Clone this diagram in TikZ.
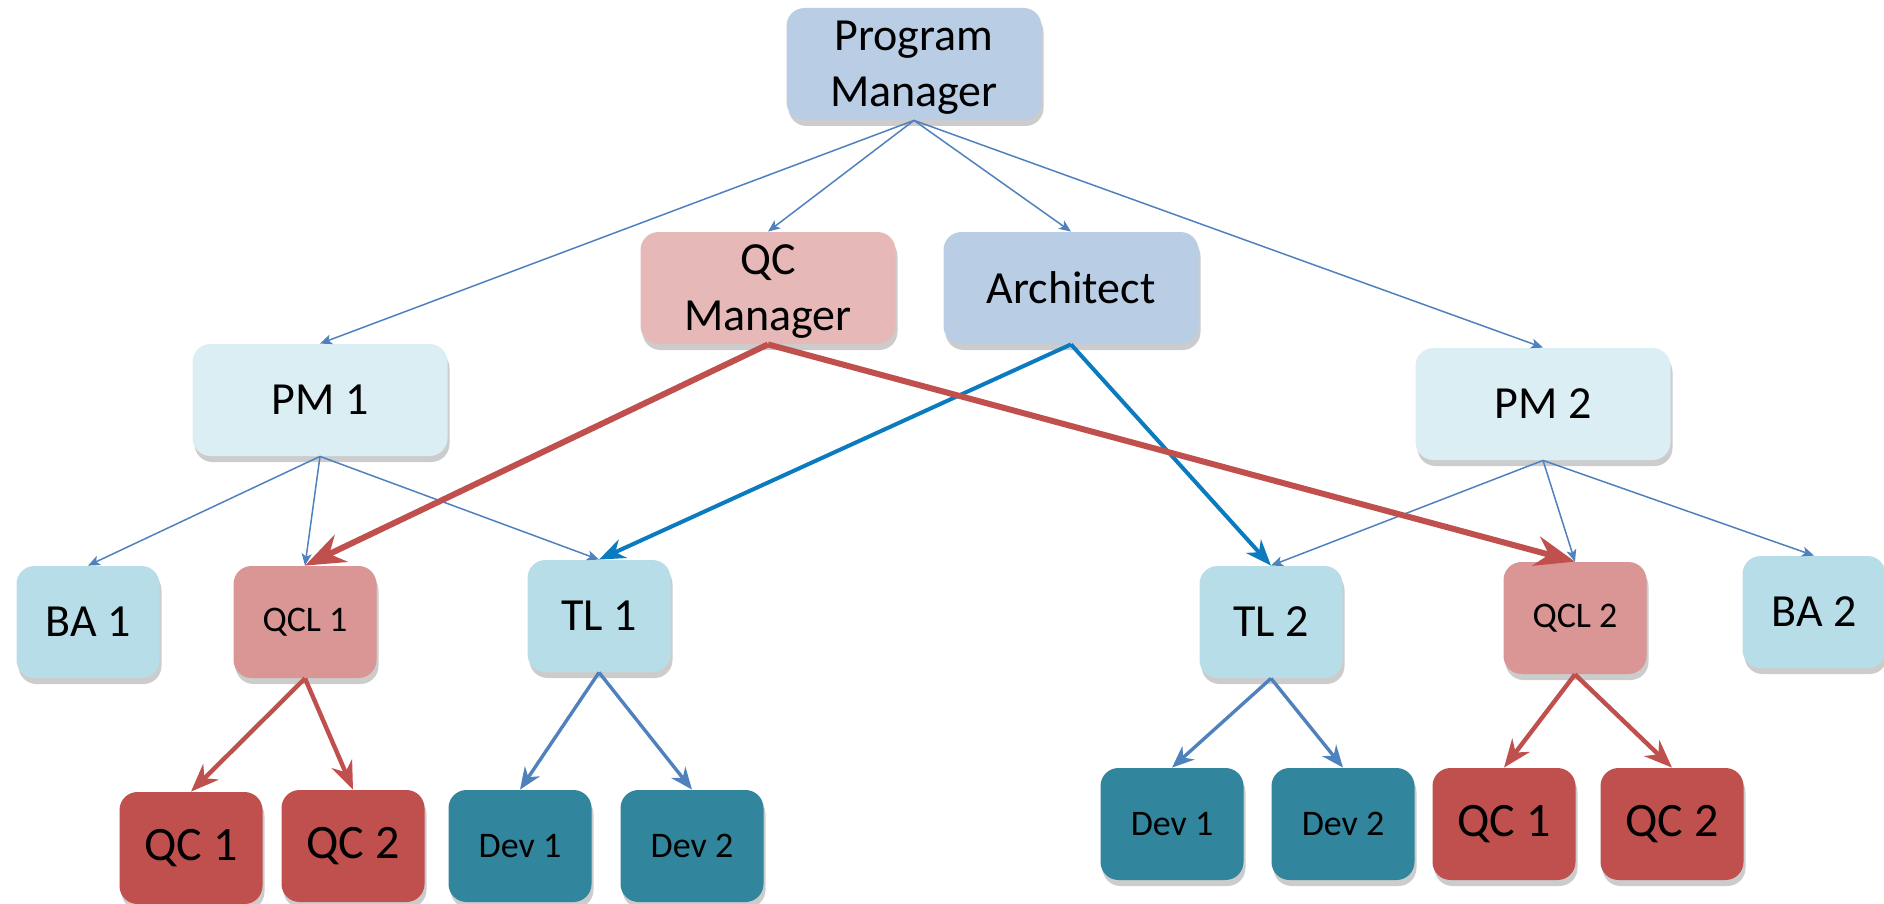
\documentclass[tikz,border=0pt]{standalone}
\usepackage{fontspec}
\setmainfont{Carlito}
\usetikzlibrary{arrows.meta,shadows}
\definecolor{cPM}{HTML}{B9CDE5}
\definecolor{cQCM}{HTML}{E6B9B8}
\definecolor{cPMx}{HTML}{DBEEF4}
\definecolor{cBA}{HTML}{B7DEE8}
\definecolor{cQCL}{HTML}{D99694}
\definecolor{cQC}{HTML}{C0504D}
\definecolor{cDev}{HTML}{31859C}
\definecolor{cLine}{HTML}{4F81BD}
\definecolor{cArch}{HTML}{0B7BC0}
\tikzset{
  box/.style={rounded corners=9pt, inner sep=0pt, align=center, text=black,
    font=\fontsize{23}{28}\selectfont,
    drop shadow={shadow xshift=1pt, shadow yshift=-3pt, opacity=0.2, fill=black}},
  bigbox/.style={box, minimum width=127.5pt, minimum height=56pt},
  smallbox/.style={box, minimum width=71.5pt, minimum height=56pt},
  twoline/.style={text depth=0pt},
  smallfont/.style={font=\fontsize{18}{22}\selectfont},
  qcfont/.style={font=\fontsize{24}{29}\selectfont},
  thinarrow/.style={draw=cLine, line width=0.75pt, -{Stealth[length=6pt,width=5pt,inset=1.5pt]}},
  qcmarrow/.style={draw=cQC, line width=3pt, -{Stealth[length=20pt,width=15pt,inset=6.5pt]}},
  archarrow/.style={draw=cArch, line width=2pt, -{Stealth[length=13pt,width=10pt,inset=4pt]}},
  qcarrow/.style={draw=cQC, line width=2.2pt, -{Stealth[length=14pt,width=11pt,inset=4.5pt]}},
  devarrow/.style={draw=cLine, line width=1.7pt, -{Stealth[length=11pt,width=9pt,inset=3.5pt]}},
}
\begin{document}
\begin{tikzpicture}[x=0.5pt,y=-0.5pt]
\useasboundingbox (0,0) rectangle (1884,904);
% top level
\node[bigbox, twoline, fill=cPM] (pm) at (914,64) {Program\\Manager};
\node[bigbox, twoline, fill=cQCM] (qcm) at (768,288) {QC\\Manager};
\node[bigbox, fill=cPM] (arch) at (1071,288) {Architect};
\node[bigbox, fill=cPMx] (pm1) at (320,400) {PM 1};
\node[bigbox, fill=cPMx] (pm2) at (1543,404) {PM 2};
% middle level
\node[smallbox, fill=cBA] (ba1) at (88,622) {BA 1};
\node[smallbox, fill=cQCL, smallfont] (qcl1) at (305,622) {QCL 1};
\node[smallbox, fill=cBA] (tl1) at (599,616) {TL 1};
\node[smallbox, fill=cBA] (tl2) at (1271,622) {TL 2};
\node[smallbox, fill=cQCL, smallfont] (qcl2) at (1575,618) {QCL 2};
\node[smallbox, fill=cBA] (ba2) at (1814,612) {BA 2};
% bottom level
\node[smallbox, fill=cQC, qcfont] (qc1l) at (191,848) {QC 1};
\node[smallbox, fill=cQC, qcfont] (qc2l) at (353,846) {QC 2};
\node[smallbox, fill=cDev, smallfont] (dev1l) at (520,846) {Dev 1};
\node[smallbox, fill=cDev, smallfont] (dev2l) at (692,846) {Dev 2};
\node[smallbox, fill=cDev, smallfont] (dev1r) at (1172,824) {Dev 1};
\node[smallbox, fill=cDev, smallfont] (dev2r) at (1343,824) {Dev 2};
\node[smallbox, fill=cQC, qcfont] (qc1r) at (1504,824) {QC 1};
\node[smallbox, fill=cQC, qcfont] (qc2r) at (1672,824) {QC 2};
% thin connectors
\draw[thinarrow] (pm.south) -- (pm1.north);
\draw[thinarrow] (pm.south) -- (qcm.north);
\draw[thinarrow] (pm.south) -- (arch.north);
\draw[thinarrow] (pm.south) -- (pm2.north);
\draw[thinarrow] (pm1.south) -- (ba1.north);
\draw[thinarrow] (pm1.south) -- (qcl1.north);
\draw[thinarrow] (pm1.south) -- (tl1.north);
\draw[thinarrow] (pm2.south) -- (tl2.north);
\draw[thinarrow] (pm2.south) -- (qcl2.north);
\draw[thinarrow] (pm2.south) -- (ba2.north);
% architect
\draw[archarrow] (arch.south) -- (tl1.north);
\draw[archarrow] (arch.south) -- (tl2.north);
% QC manager
\draw[qcmarrow] (qcm.south) -- (qcl1.north);
\draw[qcmarrow] (qcm.south) -- (qcl2.north);
% leads to staff
\draw[qcarrow] (qcl1.south) -- (qc1l.north);
\draw[qcarrow] (qcl1.south) -- (qc2l.north);
\draw[qcarrow] (qcl2.south) -- (qc1r.north);
\draw[qcarrow] (qcl2.south) -- (qc2r.north);
\draw[devarrow] (tl1.south) -- (dev1l.north);
\draw[devarrow] (tl1.south) -- (dev2l.north);
\draw[devarrow] (tl2.south) -- (dev1r.north);
\draw[devarrow] (tl2.south) -- (dev2r.north);
\end{tikzpicture}
\end{document}
